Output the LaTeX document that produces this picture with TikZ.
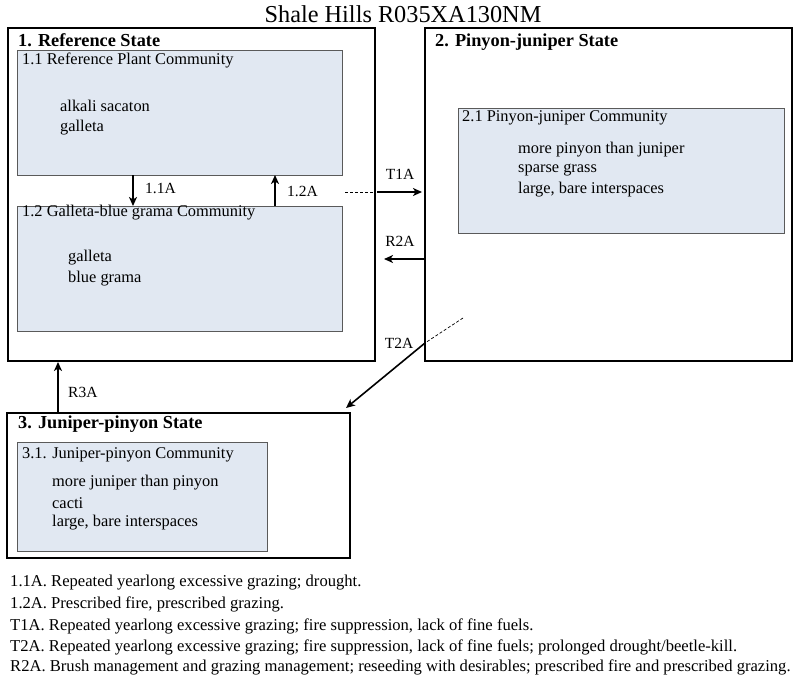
\documentclass[tikz,border=0pt]{standalone}
\usepackage{fontspec}
\setmainfont{Liberation Serif}
\usetikzlibrary{arrows.meta,calc}
\definecolor{commfill}{HTML}{E1E8F2}
\definecolor{commdraw}{HTML}{5A5A5A}
\begin{document}
\begin{tikzpicture}[x=1pt,y=-1pt,
  statebox/.style={draw=black, line width=1.8pt, anchor=north west, inner sep=0pt, outer sep=0pt},
  commbox/.style={draw=commdraw, fill=commfill, line width=1pt, anchor=north west, inner sep=0pt, outer sep=0pt},
  stitle/.style={anchor=west, inner sep=0pt, font=\fontsize{18.3}{21}\selectfont\bfseries},
  ctext/.style={anchor=west, inner sep=0pt, font=\fontsize{16.4}{19}\selectfont},
  lbl/.style={anchor=west, inner sep=0pt, font=\fontsize{15.5}{18}\selectfont},
  clbl/.style={anchor=center, inner sep=0pt, font=\fontsize{15.5}{18}\selectfont},
  foot/.style={anchor=west, inner sep=0pt, font=\fontsize{16.6}{19}\selectfont},
  arr/.style={-{Stealth[length=9pt,width=8pt,inset=2.5pt]}, line width=1.6pt},
  dsh/.style={dashed, line width=0.7pt, dash pattern=on 3pt off 2pt}
]
\fill[white] (0,0) rectangle (800,688);
\useasboundingbox (0,0) rectangle (800,688);

\node[anchor=center, inner sep=0pt, font=\fontsize{24.3}{28}\selectfont] (title) at (403,14) {Shale Hills R035XA130NM};

% state boxes
\node[statebox, minimum width=367pt, minimum height=333pt] (s1) at (8,28) {};
\node[statebox, minimum width=367pt, minimum height=333pt] (s2) at (425,28) {};
\node[statebox, minimum width=343pt, minimum height=145pt] (s3) at (7,413) {};

% community boxes
\node[commbox, minimum width=325pt, minimum height=125pt] (c11) at (17,50) {};
\node[commbox, minimum width=325pt, minimum height=125pt] (c12) at (17,206) {};
\node[commbox, minimum width=326pt, minimum height=125pt] (c21) at (458,108) {};
\node[commbox, minimum width=250pt, minimum height=109pt] (c31) at (17,442) {};

% state titles
\node[stitle] (t1) at (18,40) {1. Reference State};
\node[stitle] (t2) at (435,42) {2. Pinyon-juniper State};
\node[stitle] (t3) at (18,424) {3. Juniper-pinyon State};

% community texts
\node[ctext] (c11t) at (22,60) {1.1 Reference Plant Community};
\node[ctext] (c11a) at (60,106) {alkali sacaton};
\node[ctext] (c11b) at (60,128) {galleta};

\node[ctext] (c12t) at (22,213) {1.2 Galleta-blue grama Community};
\node[ctext] (c12a) at (68,258) {galleta};
\node[ctext] (c12b) at (68,279) {blue grama};

\node[ctext] (c21t) at (462,118) {2.1 Pinyon-juniper Community};
\node[ctext] (c21a) at (518,150) {more pinyon than juniper};
\node[ctext] (c21b) at (518,170) {sparse grass};
\node[ctext] (c21c) at (518,190) {large, bare interspaces};

\node[ctext] (c31t) at (22,455) {3.1. Juniper-pinyon Community};
\node[ctext] (c31a) at (52,483) {more juniper than pinyon};
\node[ctext] (c31b) at (52,503) {cacti};
\node[ctext] (c31c) at (52,523) {large, bare interspaces};

% connectors
\draw[arr] ([xshift=116pt]c11.south west) -- ([xshift=116pt]c12.north west);
\node[lbl] (l11) at (145,188) {1.1A};
\draw[arr] ([xshift=258pt]c12.north west) -- ([xshift=258pt]c11.south west);
\node[lbl] (l12) at (287,191) {1.2A};

\coordinate (t1s) at (345,192);
\draw[dsh] (t1s) -- (s1.east |- t1s);
\draw[arr] ([xshift=2pt]s1.east |- t1s) -- ([xshift=-3pt]s2.west |- t1s);
\node[clbl] (lt1) at (400,174) {T1A};

\coordinate (r2e) at (384,259);
\draw[arr] (s2.west |- r2e) -- (r2e);
\node[clbl] (lr2) at (400,241) {R2A};

\coordinate (t2s) at (463,318);
\coordinate (t2m) at (425,343);
\draw[dsh] (t2s) -- (t2m);
\draw[arr] (t2m) -- ([xshift=-4pt,yshift=5pt]s3.north east);
\node[clbl] (lt2) at (399,343) {T2A};

\draw[arr] ([xshift=51pt]s3.north west) -- ([xshift=50pt,yshift=-1pt]s1.south west);
\node[lbl] (lr3) at (68,392) {R3A};

% footnotes
\node[foot] (f1) at (10,583) {1.1A. Repeated yearlong excessive grazing; drought.};
\node[foot] (f2) at (10,604) {1.2A. Prescribed fire, prescribed grazing.};
\node[foot] (f3) at (10,626) {T1A. Repeated yearlong excessive grazing; fire suppression, lack of fine fuels.};
\node[foot] (f4) at (10,647) {T2A. Repeated yearlong excessive grazing; fire suppression, lack of fine fuels; prolonged drought/beetle-kill.};
\node[foot] (f5) at (10,667) {R2A. Brush management and grazing management; reseeding with desirables; prescribed fire and prescribed grazing.};
\end{tikzpicture}
\end{document}
